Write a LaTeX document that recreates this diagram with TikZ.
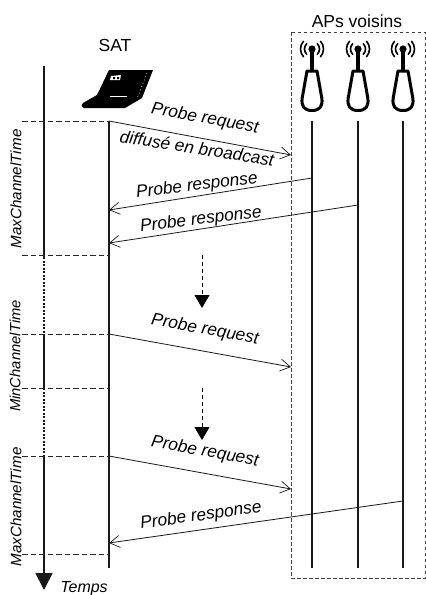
\documentclass[tikz,border=0pt]{standalone}
\usepackage{fontspec}
\setmainfont{Liberation Sans}
\usetikzlibrary{arrows.meta}
\tikzset{
  life/.style={draw=black!90,line width=1.6pt},
  msg/.style={draw=black!90,line width=0.8pt,-{Straight Barb[length=10pt,width=12pt,line width=0.7pt]}},
  mark line/.style={draw=black!85,line width=0.8pt,dash pattern=on 5.5pt off 3pt},
  lab/.style={font=\itshape\fontsize{17.3}{19}\selectfont,inner sep=0pt},
  side/.style={font=\itshape\fontsize{15.2}{17}\selectfont,inner sep=0pt,rotate=90},
  head/.style={font=\fontsize{17.5}{20}\selectfont,inner sep=0pt},
  wave/.style={line width=1.6pt,line cap=round},
  pause/.style={draw=black,line width=0.8pt,dash pattern=on 4pt off 3pt,-{Triangle[length=13pt,width=15pt]}}
}
\newcommand{\apicon}[1]{%
  \begin{scope}[shift={(#1,0)}]
    \fill (0,49) circle (3.6);
    \draw[line width=3.2pt] (0,49) -- (0,72);
    \draw[line width=3pt,line join=round] (-5,71) -- (5,71) -- (9.8,98) .. controls (11,106) and (8,110.5) .. (0,110.5)
      .. controls (-8,110.5) and (-11,106) .. (-9.8,98) -- cycle;
    \foreach \r/\a in {7.5/45,11.5/42}{
      \draw[wave] (0,49) ++(-\a:\r) arc[start angle=-\a,end angle=\a,radius=\r];
      \draw[wave] (0,49) ++(180-\a:\r) arc[start angle=180-\a,end angle=180+\a,radius=\r];
    }
  \end{scope}}
\begin{document}
\begin{tikzpicture}[x=1pt,y=-1pt]
\useasboundingbox (0,0) rectangle (426,595);
% named anchor coordinates
\coordinate (axT) at (44,66); \coordinate (axA) at (44,257); \coordinate (axB) at (44,334);
\coordinate (axC) at (44,388); \coordinate (axD) at (44,456); \coordinate (axE) at (44,590);
\coordinate (s0) at (109,121); \coordinate (s1) at (109,210); \coordinate (s2) at (109,243);
\coordinate (s3) at (109,255); \coordinate (s4) at (109,334); \coordinate (s5) at (109,388);
\coordinate (s6) at (109,456); \coordinate (s7) at (109,543); \coordinate (s8) at (109,554);
\coordinate (sEnd) at (109,568);
\coordinate (r1) at (291,155); \coordinate (r2) at (291,367); \coordinate (r3) at (291,489);
\coordinate (a1) at (312,178); \coordinate (a2) at (358,205); \coordinate (a3) at (403,501);
% neighbour box
\draw[draw=black!75,line width=0.7pt,dash pattern=on 3.5pt off 2.5pt] (291,32) rectangle (425,578);
% time axis
\draw[life,line width=1.7pt] (axT) -- (axA);
\draw[life,dash pattern=on 2pt off 1.5pt] (axA) -- (axB);
\draw[life,line width=1.7pt] (axB) -- (axC);
\draw[life,dash pattern=on 2pt off 1.5pt] (axC) -- (axD);
\draw[life,line width=1.7pt,-{Triangle[length=17pt,width=17pt]}] (axD) -- (axE);
% life lines
\draw[life] (s0) -- (sEnd);
\draw[life] (312,121) -- (312,568);
\draw[life] (358,121) -- (358,568);
\draw[life] (403,121) -- (403,568);
% time marks
\foreach \c in {s0,s3,s4,s5,s6,s8}{
  \draw[mark line] (22,0 |- \c) -- (\c);
}
% messages
\draw[msg] (s0) -- (r1);
\draw[msg] (a1) -- (s1);
\draw[msg] (a2) -- (s2);
\draw[msg] (s4) -- (r2);
\draw[msg] (s6) -- (r3);
\draw[msg] (a3) -- (s7);
% pauses
\draw[pause] (202,255) -- (202,308);
\draw[pause] (202,388) -- (202,440);
% labels
\node[head] (sat) at (115,45) {SAT};
\node[head] (aps) at (357,21) {APs voisins};
\node[lab,rotate=-10] (m1) at (205,119) {Probe request};
\node[lab,rotate=-9] (m1b) at (197,148) {diffusé en broadcast};
\node[lab,rotate=7] (m2) at (197,186) {Probe response};
\node[lab,rotate=7] (m3) at (201,220) {Probe response};
\node[lab,rotate=-10] (m4) at (205,330) {Probe request};
\node[lab,rotate=-10] (m5) at (205,452) {Probe request};
\node[lab,rotate=8] (m6) at (201,516) {Probe response};
\node[side] (t1) at (16,189) {MaxChannelTime};
\node[side,font=\itshape\fontsize{14.8}{17}\selectfont] (t2) at (15,356) {MinChannelTime};
\node[side] (t3) at (16,507) {MaxChannelTime};
\node[font=\itshape\fontsize{16}{18}\selectfont,inner sep=0pt] (tps) at (84,589) {Temps};
% AP icons
\apicon{312}\apicon{358}\apicon{403}
% laptop
\fill[black] (109,70) -- (153,70) -- (142,98) -- (125,108) -- (84,108)
  .. controls (81,107) and (81,104) .. (83,103) -- (97,95) -- cycle;
\fill[white] (111,76) -- (121,75) -- (120,80) -- (110,80) -- cycle;
\fill[black] (113,77) rectangle (115,79) (117,77) rectangle (119,79);
\draw[white,line width=0.6pt] (110,96) -- (127,96);
\draw[white,line width=0.4pt,dash pattern=on 1pt off 2.5pt] (147,73) -- (137,99);
\end{tikzpicture}
\end{document}
